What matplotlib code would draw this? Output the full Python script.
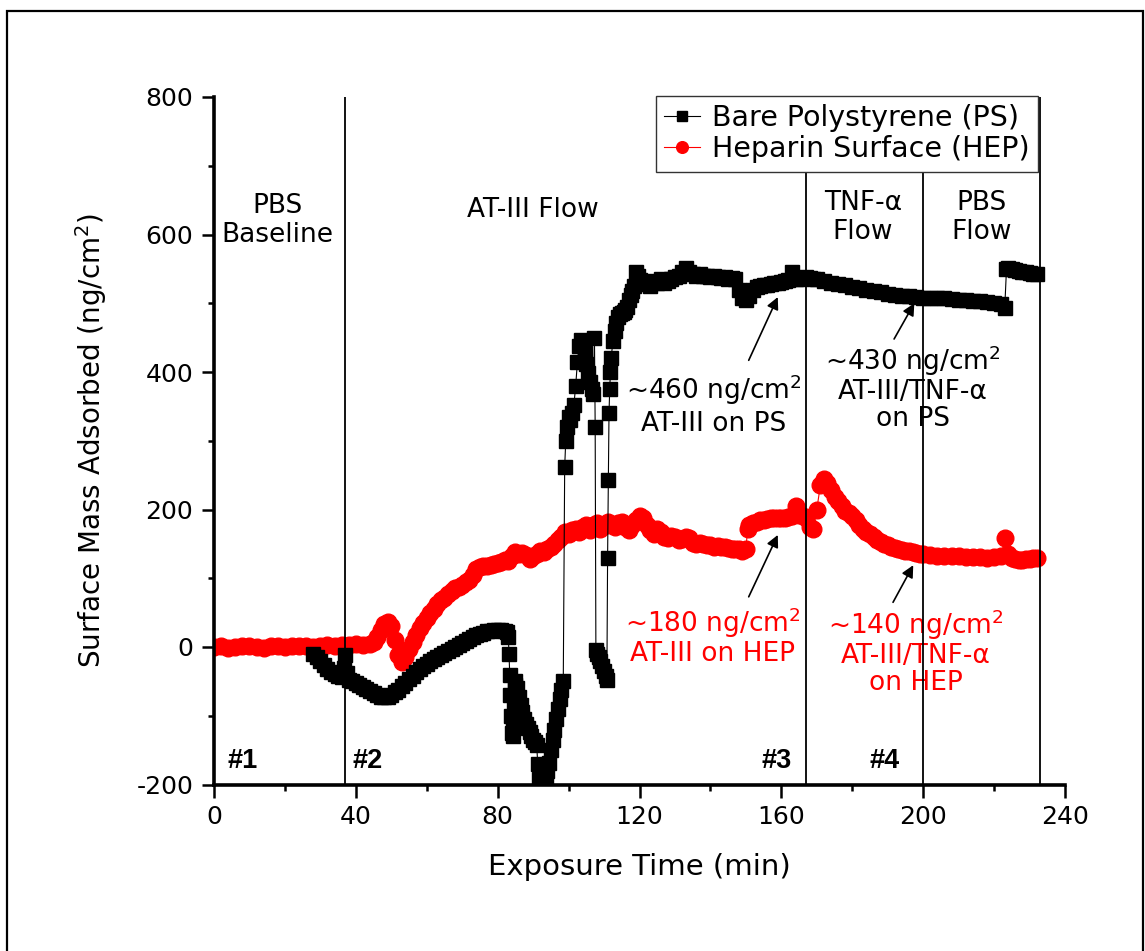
import matplotlib
matplotlib.use("Agg")
import matplotlib.pyplot as plt
from matplotlib.patches import Rectangle

plt.rcParams['font.family'] = ['DejaVu Sans']
plt.rcParams['mathtext.fontset'] = 'dejavusans'
plt.rcParams['axes.unicode_minus'] = False

# ---------------- data ----------------
ps_time = [
    28, 29, 30, 31, 32, 33, 34, 35, 36, 36.6,
    37.0, 37.4, 38, 39, 40, 41, 42, 43, 44, 45,
    46, 47, 48, 49, 50, 51, 52, 53, 54, 55,
    56, 57, 58, 59, 60, 61, 62, 63, 64, 65,
    66, 67, 68, 69, 70, 71, 72, 73, 74, 75,
    76, 77, 78, 79, 80, 81, 82, 82.5, 83.0, 83.2,
    83.4, 83.6, 83.8, 84.0, 84.2, 84.4, 84.6, 84.8, 85.0, 85.5,
    86, 86.5, 87, 87.5, 88, 88.5, 89, 89.5, 90, 90.5,
    91, 91.3, 91.6, 92, 92.5, 93, 93.5, 94, 94.5, 95,
    95.5, 96, 96.5, 97, 97.5, 98, 98.5, 98.9, 99.2, 99.5,
    100, 100.5, 101, 101.5, 102, 102.5, 103, 103.5, 104, 104.5,
    105, 105.5, 106, 106.5, 107, 107.3, 107.5, 107.7, 108, 108.5,
    109, 109.5, 110, 110.5, 110.8, 111.0, 111.2, 111.4, 111.6, 111.8,
    112, 112.5, 113, 113.5, 114, 114.5, 115, 115.5, 116, 116.5,
    117, 117.5, 118, 118.5, 119, 119.5, 120, 121, 122, 123,
    124, 125, 126, 127, 128, 129, 130, 131, 132, 133,
    134, 135, 136, 137, 138, 139, 140, 141, 142, 143,
    144, 145, 146, 147, 148, 149, 150, 151, 152, 153,
    154, 155, 156, 157, 158, 159, 160, 161, 162, 163,
    164, 165, 166, 167, 168, 169, 170, 172, 174, 176,
    178, 180, 182, 184, 186, 188, 190, 192, 194, 196,
    198, 200, 202, 204, 206, 208, 210, 212, 214, 216,
    218, 220, 222, 223, 223.5, 224, 225, 226, 227, 228,
    229, 230, 231, 232,
]
ps_mass = [
    -10, -15, -20, -26, -32, -36, -39, -42, -44, -30,
    -12, -38, -48, -50, -52, -55, -58, -61, -64, -67,
    -70, -72, -73, -72, -70, -66, -62, -57, -52, -47,
    -42, -37, -32, -28, -24, -21, -18, -15, -12, -9,
    -6, -3, 0, 3, 6, 9, 12, 15, 17, 19,
    21, 23, 24, 25, 25, 25, 24, 22, 15, -10,
    -40, -70, -100, -125, -130, -110, -80, -55, -50, -60,
    -72, -85, -95, -105, -112, -118, -124, -130, -135, -138,
    -142, -170, -192, -198, -197, -195, -190, -180, -168, -150,
    -135, -120, -105, -90, -75, -62, -50, 262, 300, 320,
    335, 330, 340, 352, 380, 415, 438, 446, 442, 428,
    412, 398, 386, 376, 368, 449, 320, -5, -10, -15,
    -20, -28, -35, -42, -48, 130, 243, 340, 375, 400,
    420, 445, 460, 472, 480, 484, 486, 488, 490, 495,
    505, 512, 518, 525, 545, 540, 534, 528, 530, 525,
    532, 530, 535, 530, 532, 535, 538, 540, 545, 552,
    545, 542, 540, 542, 540, 540, 538, 540, 538, 537,
    538, 536, 537, 535, 520, 508, 505, 510, 520, 523,
    525, 526, 527, 528, 529, 530, 531, 532, 534, 546,
    535, 536, 537, 538, 537, 536, 535, 533, 530, 528,
    526, 524, 522, 520, 518, 516, 514, 512, 511, 510,
    509, 508, 508, 507, 507, 506, 505, 505, 504, 503,
    502, 501, 499, 493, 550, 552, 550, 548, 547, 546,
    545, 544, 543, 542,
]

hep_time = [
    0, 2, 4, 6, 8, 10, 12, 14, 16, 18,
    20, 22, 24, 26, 28, 30, 32, 34, 36, 38,
    40, 42, 44, 45, 46, 47, 48, 49, 50, 51,
    52, 53, 54, 55, 56, 57, 58, 59, 60, 61,
    62, 63, 64, 65, 66, 67, 68, 69, 70, 71,
    72, 73, 74, 75, 76, 77, 78, 79, 80, 81,
    82, 83, 84, 85, 86, 87, 88, 89, 90, 91,
    92, 93, 94, 95, 96, 97, 98, 99, 100, 101,
    102, 103, 104, 105, 106, 107, 108, 109, 110, 111,
    112, 113, 114, 115, 116, 117, 118, 119, 120, 121,
    122, 123, 124, 125, 126, 127, 128, 129, 130, 131,
    132, 133, 134, 135, 136, 137, 138, 139, 140, 141,
    142, 143, 144, 145, 146, 147, 148, 149, 150, 150.5,
    151, 152, 153, 154, 155, 156, 157, 158, 159, 160,
    161, 162, 163, 164, 165, 166, 167, 168, 169, 170,
    171, 172, 173, 174, 175, 176, 177, 178, 179, 180,
    181, 182, 183, 184, 185, 186, 187, 188, 189, 190,
    191, 192, 193, 194, 195, 196, 197, 198, 199, 200,
    202, 204, 206, 208, 210, 212, 214, 216, 218, 220,
    222, 223, 224, 225, 226, 227, 228, 229, 230, 231,
    232,
]
hep_mass = [
    0, 1, -1, 0, 2, 1, 0, -1, 1, 2,
    0, 1, 2, 1, 0, 2, 3, 2, 3, 3,
    4, 3, 5, 8, 14, 25, 33, 36, 30, 10,
    -12, -22, -15, -3, 8, 18, 27, 35, 42, 50,
    56, 62, 68, 72, 77, 82, 86, 88, 90, 94,
    98, 105, 114, 116, 118, 118, 120, 121, 122, 124,
    126, 125, 132, 138, 136, 137, 134, 128, 133, 136,
    140, 138, 142, 145, 150, 155, 160, 168, 165, 170,
    172, 168, 175, 178, 170, 178, 180, 172, 176, 182,
    178, 175, 180, 182, 175, 170, 178, 185, 190, 188,
    178, 170, 165, 172, 168, 160, 158, 162, 160, 155,
    157, 160, 158, 152, 150, 152, 150, 148, 148, 146,
    147, 145, 146, 144, 142, 143, 142, 140, 142, 172,
    178, 180, 182, 185, 185, 186, 187, 188, 187, 188,
    188, 189, 190, 205, 192, 190, 188, 175, 172, 200,
    235, 245, 238, 228, 218, 212, 205, 198, 195, 190,
    185, 178, 172, 168, 164, 160, 156, 153, 150, 148,
    146, 144, 142, 141, 140, 139, 138, 137, 136, 136,
    134, 133, 133, 132, 132, 131, 131, 131, 130, 131,
    132, 158, 135, 130, 128, 126, 127, 128, 128, 130,
    130,
]
assert len(ps_time) == len(ps_mass)
assert len(hep_time) == len(hep_mass)

phase_bounds = [37, 167, 200, 233]
x_ticks = [0, 40, 80, 120, 160, 200, 240]
y_ticks = [-200, 0, 200, 400, 600, 800]

# ---------------- figure ----------------
W, H = 1145, 951
fig = plt.figure(figsize=(W / 100, H / 100), dpi=100)
ax = fig.add_axes([214 / W, 1 - 784.5 / H, 851 / W, 687.5 / H])

fig.patches.append(Rectangle((7 / W, -0.02), (1143 - 7) / W, (951 - 11) / H + 0.02,
                             transform=fig.transFigure, fill=False,
                             lw=1.6, ec='black', zorder=0))

ax.plot(ps_time, ps_mass, color='black', lw=0.8, marker='s', ms=10,
        mec='black', mfc='black', label='Bare Polystyrene (PS)', zorder=3)
ax.plot(hep_time, hep_mass, color='red', lw=0.8, marker='o', ms=12,
        mec='red', mfc='red', label='Heparin Surface (HEP)', zorder=2)

ax.vlines(phase_bounds, -200, 800, colors='black', lw=1.3, zorder=4)

ax.set_xlim(0, 240)
ax.set_ylim(-200, 800)
ax.set_xticks(x_ticks)
ax.set_yticks(y_ticks)
ax.set_xticks([20, 60, 100, 140, 180, 220], minor=True)
ax.set_yticks([-100, 100, 300, 500, 700], minor=True)
for s in ['top', 'right']:
    ax.spines[s].set_visible(False)
for s in ['left', 'bottom']:
    ax.spines[s].set_linewidth(2.6)
ax.tick_params(which='major', direction='out', length=9, width=1.8,
               labelsize=18, pad=6)
ax.tick_params(which='minor', direction='out', length=4.5, width=1.8)

ax.set_xlabel('Exposure Time (min)', fontsize=21, labelpad=17)
ax.set_ylabel('Surface Mass Adsorbed (ng/cm$^2$)', fontsize=20, labelpad=20)

fs = 19
ax.text(18, 620, 'PBS\nBaseline', ha='center', va='center', fontsize=fs, linespacing=1.15)
ax.text(90, 636, 'AT-III Flow', ha='center', va='center', fontsize=fs)
ax.text(183, 625, 'TNF-\u03b1\nFlow', ha='center', va='center', fontsize=fs, linespacing=1.15)
ax.text(216.5, 625, 'PBS\nFlow', ha='center', va='center', fontsize=fs, linespacing=1.15)

for lab, xx in zip(['#1', '#2', '#3', '#4'], [8, 43.2, 158.8, 189]):
    ax.text(xx, -166, lab, ha='center', va='center', fontsize=19.5,
            fontweight='bold', family='Liberation Sans')

arrow_kw = dict(arrowstyle='-|>', color='black', lw=1.2, mutation_scale=18,
                shrinkA=0, shrinkB=0)
ax.annotate('', xy=(159, 509), xytext=(150.8, 417), arrowprops=arrow_kw)
ax.annotate('', xy=(197.5, 500), xytext=(191.8, 448), arrowprops=arrow_kw)
ax.annotate('', xy=(159, 163), xytext=(150.8, 73), arrowprops=arrow_kw)
ax.annotate('', xy=(197.2, 119), xytext=(191.5, 65), arrowprops=arrow_kw)

ax.text(141, 352, '~460 ng/cm$^2$\nAT-III on PS', ha='center', va='center',
        fontsize=fs, linespacing=1.2)
ax.text(197, 377, '~430 ng/cm$^2$\nAT-III/TNF-\u03b1\non PS', ha='center', va='center',
        fontsize=fs, linespacing=1.05)
ax.text(140.7, 16, '~180 ng/cm$^2$\nAT-III on HEP', ha='center', va='center',
        fontsize=fs, color='red', linespacing=1.05)
ax.text(198, -7, '~140 ng/cm$^2$\nAT-III/TNF-\u03b1\non HEP', ha='center', va='center',
        fontsize=fs, color='red', linespacing=1.05)

leg = ax.legend(loc='upper right', bbox_to_anchor=(0.968, 1.002), borderaxespad=0,
                fontsize=20.5, handlelength=1.25, handletextpad=0.42, labelspacing=0.1,
                borderpad=0.3, markerscale=0.7, fancybox=False, framealpha=1,
                edgecolor='#333333')
leg.get_frame().set_linewidth(1.0)
leg.set_zorder(10)

fig.savefig('out.png', dpi=100)
